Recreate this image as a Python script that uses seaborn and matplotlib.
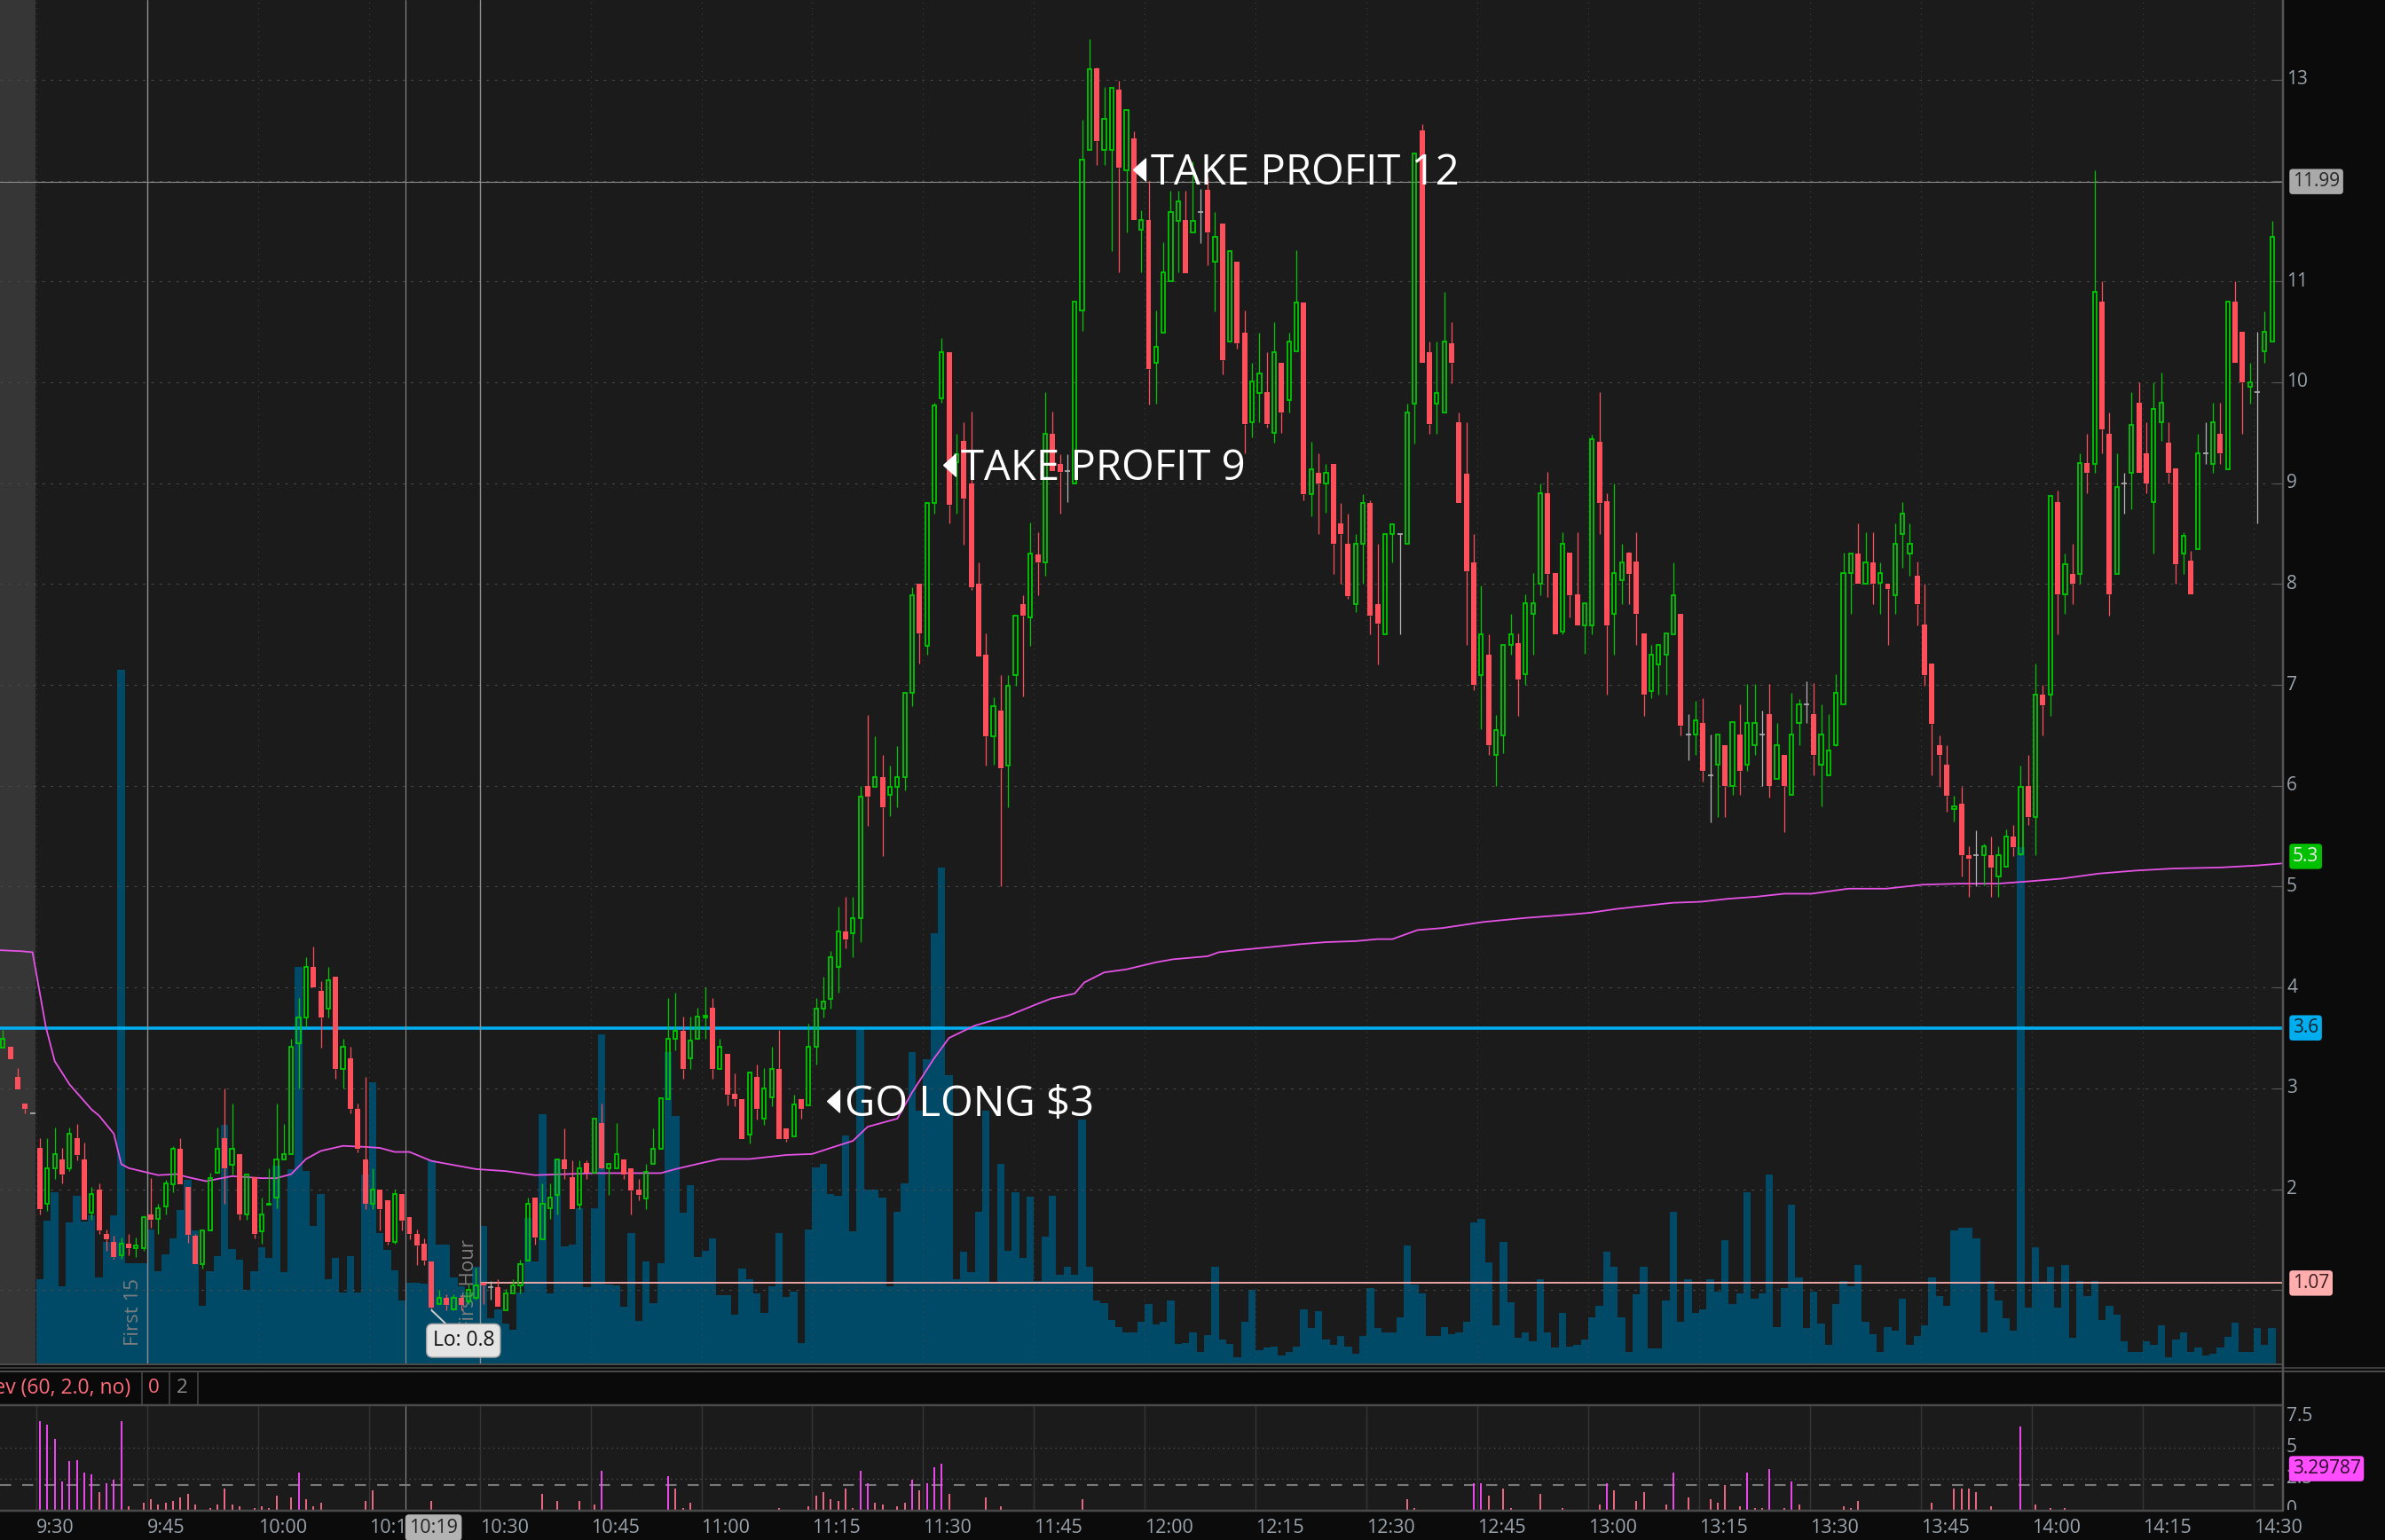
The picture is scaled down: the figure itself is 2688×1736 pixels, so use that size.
"""
Intraday 1-minute chart (candles, volume overlay, VWAP, key levels)
with a relative-volume sub-panel, rebuilt from a platform screenshot.
"""
import matplotlib
matplotlib.use("Agg")
import matplotlib.pyplot as plt
from matplotlib.lines import Line2D
import numpy as np
import pandas as pd
import seaborn as sns

# ---------------------------------------------------------------- data
# candle index = minutes after 9:30 (negative = pre-market)
MINUTES = list(range(-5, 303))

OPEN = [
    3.40, 3.41, 3.11, 2.85, 2.75, 2.41, 1.86, 2.21, 2.30, 2.21,
    2.51, 2.30, 1.77, 2.00, 1.56, 1.48, 1.35, 1.46, 1.42, 1.42,
    1.75, 1.71, 1.83, 2.05, 2.40, 2.02, 1.54, 1.26, 1.59, 2.16,
    2.51, 2.24, 2.35, 1.75, 2.12, 1.58, 1.85, 1.92, 2.30, 2.35,
    3.45, 3.70, 4.20, 3.97, 3.79, 4.11, 3.19, 3.30, 2.80, 2.30,
    1.86, 2.00, 1.89, 1.48, 1.95, 1.72, 1.56, 1.46, 1.28, 0.86,
    0.92, 0.81, 0.92, 0.89, 0.92, 1.07, 1.03, 1.03, 0.80, 0.97,
    1.05, 1.29, 1.92, 1.50, 1.81, 1.94, 2.30, 2.12, 1.85, 2.26,
    2.16, 2.66, 2.21, 2.21, 2.30, 2.21, 2.00, 1.91, 2.25, 2.40,
    2.89, 3.49, 3.57, 3.30, 3.49, 3.70, 3.80, 3.19, 3.34, 2.95,
    2.89, 2.54, 3.11, 2.70, 2.91, 3.19, 2.60, 2.52, 2.89, 2.83,
    3.41, 3.79, 3.89, 4.20, 4.56, 4.54, 4.69, 6.00, 5.99, 6.09,
    5.91, 5.99, 6.09, 6.92, 8.00, 7.39, 8.80, 9.84, 10.30, 9.21,
    9.42, 9.00, 8.00, 7.30, 6.49, 6.75, 6.20, 7.10, 7.80, 7.67,
    8.29, 8.21, 9.49, 9.19, 9.12, 9.00, 10.71, 12.30, 13.11, 12.30,
    12.30, 12.90, 12.10, 12.42, 11.51, 11.61, 10.19, 10.49, 11.00, 11.60,
    11.61, 11.49, 11.69, 11.91, 11.20, 11.57, 10.40, 11.20, 10.49, 9.60,
    9.89, 9.90, 9.50, 10.19, 9.82, 10.31, 10.79, 8.89, 9.10, 9.00,
    9.19, 8.60, 8.40, 7.80, 8.40, 8.80, 7.80, 7.50, 8.50, 8.50,
    8.40, 9.79, 12.50, 10.30, 9.79, 9.70, 10.39, 9.60, 9.09, 8.21,
    7.10, 7.30, 6.31, 6.50, 7.40, 7.41, 7.11, 7.70, 8.00, 8.90,
    8.11, 7.53, 8.31, 7.90, 7.59, 7.59, 9.41, 8.82, 7.70, 8.04,
    8.31, 8.22, 7.51, 6.94, 7.20, 7.30, 7.50, 7.70, 6.51, 6.51,
    6.62, 6.10, 6.21, 6.40, 6.00, 6.51, 6.21, 6.40, 6.51, 6.71,
    6.07, 6.31, 5.91, 6.62, 6.81, 6.71, 6.21, 6.10, 6.40, 6.81,
    8.11, 8.30, 8.00, 8.21, 8.01, 8.00, 7.89, 8.50, 8.30, 8.08,
    7.60, 7.21, 6.40, 6.21, 5.77, 5.82, 5.31, 5.31, 5.31, 5.31,
    5.10, 5.20, 5.50, 5.32, 6.00, 5.69, 6.90, 6.90, 8.81, 7.90,
    8.10, 8.10, 9.20, 9.19, 10.80, 9.49, 8.10, 9.00, 9.10, 9.80,
    9.30, 8.81, 9.60, 9.40, 9.15, 8.30, 8.23, 8.35, 9.30, 9.19,
    9.49, 9.14, 10.80, 10.50, 9.96, 9.90, 10.31, 10.40,
]
HIGH = [
    3.58, 3.41, 3.20, 2.85, 2.75, 2.51, 2.51, 2.61, 2.41, 2.61,
    2.65, 2.46, 2.02, 2.06, 1.60, 1.54, 1.52, 1.56, 1.52, 1.74,
    2.11, 1.86, 2.09, 2.43, 2.51, 2.02, 1.56, 1.59, 2.16, 2.61,
    3.00, 2.85, 2.35, 2.15, 2.12, 1.92, 2.21, 2.85, 2.65, 3.49,
    3.90, 4.30, 4.41, 4.06, 4.20, 4.11, 3.49, 3.41, 2.85, 3.11,
    2.21, 2.00, 1.89, 2.00, 1.95, 1.72, 1.60, 1.51, 1.28, 1.00,
    0.96, 0.96, 0.95, 1.06, 1.22, 1.07, 1.09, 1.11, 1.01, 1.11,
    1.30, 1.92, 1.92, 2.06, 2.06, 2.30, 2.60, 2.29, 2.29, 2.29,
    2.70, 2.85, 2.25, 2.66, 2.30, 2.21, 2.10, 2.25, 2.60, 2.90,
    3.90, 3.95, 3.71, 3.71, 3.80, 4.00, 3.90, 3.49, 3.34, 3.15,
    2.89, 3.16, 3.24, 3.20, 3.41, 3.58, 2.60, 2.94, 2.89, 3.64,
    3.90, 4.11, 4.36, 4.80, 4.90, 4.90, 6.00, 6.70, 6.49, 6.31,
    6.20, 6.39, 6.93, 7.97, 8.00, 8.80, 9.80, 10.44, 10.30, 9.49,
    9.60, 9.71, 8.21, 7.51, 6.88, 7.10, 7.10, 7.69, 7.89, 8.61,
    8.51, 9.90, 9.71, 9.29, 9.29, 10.80, 12.60, 13.40, 13.12, 12.93,
    12.93, 12.99, 12.70, 12.49, 11.71, 12.00, 10.71, 11.39, 11.90, 11.90,
    11.90, 12.19, 11.92, 12.03, 11.69, 11.57, 11.30, 11.20, 10.71, 10.19,
    10.49, 10.30, 10.60, 10.19, 10.49, 11.31, 10.79, 9.41, 9.30, 9.19,
    9.19, 8.80, 8.70, 8.50, 8.89, 8.83, 8.40, 8.50, 8.59, 8.50,
    9.79, 12.27, 12.56, 10.40, 10.40, 10.90, 10.60, 9.70, 9.60, 8.50,
    7.99, 7.50, 6.70, 7.40, 7.70, 7.51, 7.90, 8.11, 9.00, 9.11,
    8.11, 8.51, 8.31, 8.51, 7.81, 9.48, 9.90, 8.90, 9.00, 8.40,
    8.32, 8.51, 7.51, 7.40, 7.40, 7.51, 8.21, 7.70, 6.71, 6.84,
    6.87, 6.51, 6.51, 6.40, 6.63, 6.81, 7.01, 7.01, 6.75, 7.01,
    6.62, 6.31, 6.92, 6.86, 7.04, 7.02, 6.81, 6.71, 7.11, 8.31,
    8.30, 8.60, 8.51, 8.51, 8.21, 8.00, 8.60, 8.81, 8.60, 8.22,
    8.00, 7.21, 6.50, 6.40, 5.90, 5.99, 5.40, 5.56, 5.43, 5.50,
    5.40, 5.57, 5.61, 6.20, 6.31, 7.21, 7.00, 8.87, 8.93, 8.30,
    8.40, 9.30, 9.49, 12.10, 11.00, 9.70, 9.30, 9.10, 9.90, 10.00,
    9.60, 10.00, 10.10, 9.60, 9.15, 8.51, 8.33, 9.49, 9.60, 9.80,
    9.80, 10.80, 11.00, 10.50, 10.19, 10.50, 10.70, 11.60,
]
LOW = [
    3.40, 3.29, 2.99, 2.75, 2.75, 1.75, 1.79, 2.10, 2.06, 2.18,
    2.29, 1.70, 1.70, 1.56, 1.39, 1.31, 1.31, 1.35, 1.33, 1.39,
    1.62, 1.56, 1.75, 1.97, 2.05, 1.47, 1.26, 1.21, 1.59, 2.16,
    1.86, 2.15, 1.70, 1.70, 1.51, 1.46, 1.85, 1.81, 2.30, 2.35,
    3.00, 3.61, 4.00, 3.40, 3.70, 3.10, 3.00, 2.75, 2.37, 1.80,
    1.80, 1.59, 1.45, 1.46, 1.59, 1.50, 1.25, 1.25, 0.80, 0.86,
    0.80, 0.80, 0.80, 0.86, 0.91, 0.86, 0.91, 0.84, 0.80, 0.97,
    0.97, 1.29, 1.45, 1.50, 1.71, 1.75, 2.10, 1.80, 1.80, 2.10,
    2.16, 2.20, 1.94, 2.21, 2.10, 1.75, 1.89, 1.80, 2.25, 2.40,
    2.89, 3.38, 3.10, 3.19, 3.49, 3.49, 3.10, 3.19, 2.83, 2.82,
    2.50, 2.45, 2.69, 2.64, 2.82, 2.50, 2.47, 2.52, 2.70, 2.83,
    3.24, 3.70, 3.79, 3.95, 4.39, 4.30, 4.45, 5.60, 5.99, 5.30,
    5.70, 5.79, 5.95, 6.79, 7.21, 7.30, 8.70, 9.80, 8.60, 8.70,
    8.39, 7.94, 7.28, 6.20, 6.21, 5.00, 5.79, 6.99, 6.89, 7.39,
    7.89, 8.08, 9.12, 8.70, 8.81, 9.00, 10.51, 12.30, 12.15, 12.15,
    11.30, 11.09, 11.49, 11.61, 11.09, 9.78, 9.79, 10.49, 11.00, 11.09,
    11.08, 11.49, 11.38, 11.16, 10.70, 10.08, 10.40, 10.33, 9.30, 9.45,
    9.60, 9.55, 9.40, 9.50, 9.70, 10.31, 8.83, 8.67, 8.50, 8.71,
    8.10, 8.00, 7.85, 7.72, 8.00, 7.50, 7.20, 7.50, 8.21, 7.50,
    8.40, 9.39, 10.19, 9.49, 9.49, 9.70, 9.99, 8.80, 7.40, 6.95,
    6.56, 6.31, 6.00, 6.32, 7.30, 6.69, 7.00, 7.30, 7.89, 7.87,
    7.50, 7.50, 7.67, 7.59, 7.31, 7.50, 8.50, 6.90, 7.30, 7.80,
    7.80, 7.40, 6.69, 6.87, 6.90, 6.90, 7.50, 6.50, 6.25, 6.31,
    6.04, 5.64, 5.69, 5.69, 5.91, 5.91, 6.15, 6.31, 6.00, 5.88,
    6.07, 5.54, 5.91, 6.40, 6.62, 6.10, 5.80, 6.10, 6.39, 6.81,
    7.70, 8.00, 8.00, 7.80, 7.70, 7.40, 7.70, 8.16, 8.08, 7.59,
    6.99, 6.10, 5.99, 5.74, 5.65, 5.10, 4.90, 5.00, 5.01, 4.90,
    4.90, 5.20, 5.30, 5.31, 5.61, 5.31, 6.50, 6.69, 7.50, 7.70,
    7.80, 8.00, 8.90, 9.10, 9.30, 7.69, 8.10, 8.70, 8.74, 9.10,
    8.90, 8.30, 9.42, 9.00, 8.00, 8.10, 7.90, 8.35, 9.19, 9.10,
    9.19, 9.14, 10.19, 9.49, 9.79, 8.60, 10.19, 10.40,
]
CLOSE = [
    3.49, 3.29, 2.99, 2.80, 2.75, 1.80, 2.21, 2.35, 2.15, 2.55,
    2.34, 1.70, 1.95, 1.59, 1.50, 1.33, 1.46, 1.42, 1.44, 1.72,
    1.70, 1.81, 2.06, 2.40, 2.05, 1.55, 1.26, 1.59, 2.11, 2.40,
    2.21, 2.40, 1.75, 2.15, 1.56, 1.75, 1.86, 2.30, 2.35, 3.41,
    3.70, 4.20, 4.00, 3.70, 4.07, 3.19, 3.41, 2.80, 2.40, 1.86,
    2.00, 1.80, 1.48, 1.95, 1.69, 1.56, 1.44, 1.29, 0.83, 0.92,
    0.85, 0.92, 0.85, 1.00, 1.05, 1.05, 1.03, 0.84, 0.97, 1.05,
    1.26, 1.86, 1.52, 1.86, 1.92, 2.30, 2.20, 1.80, 2.21, 2.16,
    2.70, 2.21, 2.25, 2.35, 2.15, 1.99, 1.94, 2.17, 2.40, 2.90,
    3.49, 3.57, 3.19, 3.47, 3.71, 3.72, 3.19, 3.41, 2.94, 2.89,
    2.50, 3.16, 2.80, 3.00, 3.19, 2.50, 2.50, 2.84, 2.80, 3.41,
    3.79, 3.86, 4.30, 4.56, 4.48, 4.69, 5.89, 5.89, 6.09, 5.79,
    5.99, 6.09, 6.92, 7.89, 7.51, 8.80, 9.77, 10.30, 8.79, 9.29,
    8.85, 7.97, 7.28, 6.49, 6.79, 6.17, 6.99, 7.69, 7.69, 8.30,
    8.21, 9.49, 9.12, 9.11, 9.12, 10.80, 12.21, 13.10, 12.39, 12.61,
    12.92, 12.13, 12.70, 11.61, 11.61, 10.13, 10.35, 11.09, 11.69, 11.79,
    11.08, 11.60, 11.69, 11.49, 11.44, 10.22, 11.30, 10.39, 9.59, 10.01,
    10.09, 9.59, 10.30, 9.70, 10.40, 10.79, 8.89, 9.14, 9.00, 9.10,
    8.40, 8.50, 7.88, 8.40, 8.80, 7.69, 7.61, 8.50, 8.59, 8.50,
    9.70, 12.27, 10.19, 9.59, 9.89, 10.40, 10.19, 8.80, 8.13, 7.00,
    7.50, 6.40, 6.55, 7.40, 7.50, 7.05, 7.81, 7.81, 8.90, 8.10,
    7.50, 8.40, 7.89, 7.59, 7.81, 9.44, 8.80, 7.59, 8.11, 8.21,
    8.10, 7.70, 6.90, 7.30, 7.40, 7.51, 7.89, 6.60, 6.51, 6.65,
    6.15, 6.10, 6.51, 6.00, 6.63, 6.15, 6.62, 6.62, 6.51, 6.00,
    6.40, 6.00, 6.51, 6.81, 6.81, 6.31, 6.51, 6.35, 6.92, 8.11,
    8.30, 8.00, 8.21, 8.00, 8.11, 7.95, 8.40, 8.70, 8.40, 7.80,
    7.10, 6.61, 6.31, 5.90, 5.80, 5.31, 5.28, 5.31, 5.40, 5.19,
    5.31, 5.50, 5.39, 5.99, 5.69, 6.90, 6.80, 8.87, 7.90, 8.20,
    8.00, 9.20, 9.10, 10.90, 9.53, 7.90, 8.96, 9.00, 9.58, 9.10,
    9.00, 9.74, 9.80, 9.10, 8.20, 8.48, 7.90, 9.30, 9.30, 9.60,
    9.30, 10.80, 10.19, 10.00, 10.00, 9.90, 10.50, 11.44,
]
# volume per minute (thousand shares)
VOLUME = [
    0, 0, 0, 0, 0, 95, 161, 193, 87, 159,
    189, 160, 167, 97, 137, 167, 782, 113, 113, 113,
    151, 104, 123, 141, 173, 207, 150, 65, 104, 121,
    269, 129, 117, 83, 104, 131, 119, 223, 103, 219,
    447, 217, 155, 191, 95, 119, 80, 121, 80, 213,
    317, 147, 128, 105, 71, 91, 91, 90, 229, 134,
    134, 97, 87, 80, 109, 155, 51, 61, 45, 38,
    80, 164, 115, 281, 79, 230, 132, 134, 175, 86,
    175, 371, 89, 88, 64, 147, 48, 115, 68, 113,
    351, 279, 170, 201, 120, 127, 141, 77, 77, 55,
    107, 95, 79, 57, 87, 147, 75, 81, 23, 151,
    221, 225, 191, 189, 257, 149, 377, 196, 196, 187,
    87, 171, 203, 351, 285, 343, 485, 559, 325, 95,
    126, 103, 171, 285, 92, 225, 127, 193, 119, 188,
    93, 143, 189, 100, 109, 100, 275, 109, 71, 68,
    49, 41, 35, 35, 47, 67, 44, 47, 71, 22,
    23, 35, 13, 32, 109, 27, 22, 7, 47, 83,
    15, 18, 19, 9, 13, 19, 61, 40, 59, 27,
    21, 31, 19, 11, 31, 85, 40, 35, 35, 52,
    133, 89, 79, 31, 31, 41, 33, 35, 47, 159,
    163, 114, 43, 137, 69, 29, 35, 25, 95, 35,
    18, 57, 19, 21, 27, 52, 65, 126, 109, 52,
    13, 78, 109, 17, 17, 71, 171, 47, 95, 57,
    61, 95, 81, 139, 67, 79, 193, 73, 79, 213,
    41, 85, 179, 97, 40, 81, 45, 21, 67, 93,
    87, 111, 47, 33, 13, 41, 37, 73, 21, 31,
    43, 97, 76, 65, 150, 153, 153, 141, 35, 93,
    71, 51, 37, 582, 63, 131, 92, 109, 63, 111,
    29, 93, 76, 93, 49, 65, 55, 25, 13, 13,
    25, 21, 43, 7, 27, 35, 13, 18, 9, 11,
    18, 30, 46, 13, 13, 40, 21, 40,
]

# VWAP read at a set of minutes
VWAP_MIN = [
    -5.4, -2.5, -1.0, 0.8, 2, 4, 7, 8, 10, 11, 12, 16, 18.5, 20, 22.5, 26,
    30, 32, 34, 36, 38, 41, 44, 46, 48, 50, 53, 56, 59, 63, 67, 75, 84, 86,
    89.5, 92, 96, 101, 104.5, 107, 110, 112, 116, 118, 121, 123, 126.4, 131,
    134.7, 136.8, 140, 141.3, 144, 147, 151, 153.3, 158, 159.5, 162, 166.4,
    170.5, 174, 178, 181, 183, 186.4, 189.8, 195.3, 201, 206.4, 209.6,
    213.4, 217.1, 220.9, 224.7, 228.4, 232.2, 236, 239.7, 244.7, 249.8,
    254.8, 259.8, 264.9, 268.6, 273.6, 278.6, 283.7, 288.7, 295, 300, 303.3,
]
VWAP_PRICE = [
    4.37, 4.36, 4.35, 3.61, 3.27, 3.04, 2.79, 2.73, 2.55, 2.25, 2.21, 2.14,
    2.15, 2.12, 2.08, 2.13, 2.11, 2.11, 2.15, 2.30, 2.38, 2.43, 2.42, 2.41,
    2.37, 2.37, 2.28, 2.24, 2.20, 2.18, 2.14, 2.16, 2.16, 2.20, 2.26, 2.30,
    2.30, 2.34, 2.35, 2.41, 2.48, 2.62, 2.70, 2.96, 3.30, 3.50, 3.62, 3.72,
    3.83, 3.89, 3.94, 4.05, 4.15, 4.18, 4.25, 4.28, 4.31, 4.35, 4.37, 4.40,
    4.43, 4.45, 4.46, 4.48, 4.48, 4.57, 4.59, 4.65, 4.69, 4.72, 4.74, 4.78,
    4.81, 4.84, 4.85, 4.88, 4.90, 4.93, 4.93, 4.98, 4.98, 5.02, 5.03, 5.03,
    5.05, 5.08, 5.13, 5.16, 5.18, 5.19, 5.21, 5.23,
]

# relative volume st-dev (only the minutes with a visible bar)
RV_MIN = [
    0, 1, 2, 3, 4, 5, 6, 7, 8, 9, 10, 11, 12, 14, 15, 16, 17, 18, 19, 20, 21,
    23, 24, 25, 26, 27, 29, 30, 31, 32, 34, 35, 36, 37, 38, 44, 45, 53, 68,
    70, 73, 75, 76, 85, 86, 87, 88, 100, 104, 105, 106, 107, 108, 109, 110,
    111, 112, 113, 114, 116, 117, 118, 119, 120, 121, 122, 123, 128, 130,
    141, 185, 186, 194, 195, 196, 198, 199, 203, 206, 211, 212, 213, 216,
    217, 220, 221, 223, 226, 227, 228, 230, 231, 232, 233, 234, 236, 237,
    238, 244, 245, 246, 256, 259, 260, 261, 262, 264, 268, 270, 272, 274,
]
RV_VAL = [
    7.14, 6.84, 5.72, 2.26, 3.88, 3.98, 2.98, 2.81, 1.43, 2.14, 2.43, 7.14,
    0.29, 0.55, 0.84, 0.43, 0.55, 0.72, 1.0, 1.26, 0.43, 0.12, 0.43, 1.71,
    0.43, 0.29, 0.12, 0.29, 0.12, 1.14, 1.0, 2.98, 0.84, 0.29, 0.55, 0.72,
    1.55, 0.72, 1.26, 0.72, 0.72, 0.43, 3.14, 2.69, 1.71, 0.12, 0.55, 0.12,
    0.29, 1.14, 1.40, 0.84, 0.72, 1.71, 0.12, 3.14, 2.14, 0.55, 0.43, 0.29,
    0.55, 2.43, 1.55, 2.14, 3.40, 3.69, 1.26, 1.0, 0.29, 0.84, 0.84, 0.12,
    2.14, 2.14, 1.14, 1.71, 0.12, 1.26, 0.12, 0.43, 2.14, 1.55, 0.72, 1.40,
    0.43, 2.98, 1.0, 0.84, 0.55, 1.98, 0.29, 2.98, 0.12, 0.12, 3.29, 0.12,
    2.26, 0.43, 0.29, 0.12, 0.72, 0.55, 1.71, 1.71, 1.71, 1.40, 0.29, 6.70,
    0.43, 0.12, 0.12,
]

TIME_LABELS = ["9:30", "9:45", "10:00", "10:15", "10:30", "10:45", "11:00",
               "11:15", "11:30", "11:45", "12:00", "12:15", "12:30", "12:45",
               "13:00", "13:15", "13:30", "13:45", "14:00", "14:15", "14:30"]
PRICE_TICKS = [13, 12, 11, 10, 9, 8, 7, 6, 5, 4, 3, 2, 1]
# the 12 label sits under the crosshair box in the source
PRICE_LABELS = [13, 11, 10, 9, 8, 7, 6, 5, 4, 3, 2, 1]

NOTES = ["TAKE PROFIT 12", "TAKE PROFIT 9", "GO LONG $3"]
NOTE_MIN = [148.7, 123.0, 107.3]
NOTE_PRICE = [12.11, 9.18, 2.88]

# ---------------------------------------------------------------- style
FIG_BG = "#0b0b0b"
PLOT_BG = "#1b1b1b"
PREMKT = "#363636"
GRID = "#4a4a4a"
GREEN = "#00c800"
RED = "#ff4f5b"
DOJI = "#b4b4b4"
VOL = "#004a68"
VWAP_C = "#e652e6"
CYAN = "#00aef0"
PINK_LVL = "#ffb0b0"
CROSS = "#8c8c8c"
AXIS_TXT = "#9aa3ab"
RV_HI = "#ff4dff"
RV_LO = "#ff6f8a"

sns.set_theme(style="dark", context="notebook")
plt.rcParams["font.family"] = ["Open Sans", "DejaVu Sans"]

W, H = 2688, 1736
PLOT_R = 2572            # right edge of chart area (px)
PX0, PXS = 45.0, 8.33    # px of minute 0, px per minute
X_LO = -PX0 / PXS
X_HI = (PLOT_R - PX0) / PXS
P_LO, P_HI = 0.273, 13.79

fig = plt.figure(figsize=(W / 100, H / 100), dpi=100)
fig.patch.set_facecolor(FIG_BG)


def px_axes(x0, y0, x1, y1):
    a = fig.add_axes([x0 / W, 1 - y1 / H, (x1 - x0) / W, (y1 - y0) / H])
    a.set_xticks([])
    a.set_yticks([])
    for s in a.spines.values():
        s.set_visible(False)
    return a


def px_line(xs, ys, color, lw_px):
    fig.add_artist(Line2D([x / W for x in xs], [1 - y / H for y in ys],
                          color=color, lw=lw_px * 0.72,
                          transform=fig.transFigure))


df = pd.DataFrame({"minute": MINUTES, "open": OPEN, "high": HIGH,
                   "low": LOW, "close": CLOSE, "volume": VOLUME})
df["top"] = df[["open", "close"]].max(axis=1)
df["bot"] = df[["open", "close"]].min(axis=1)
df["color"] = np.where(df["close"] > df["open"], GREEN,
                       np.where(df["close"] < df["open"], RED, DOJI))
up = df[df["close"] > df["open"]]
dn = df[df["close"] < df["open"]]
flat = df[df["close"] == df["open"]]

# ---------------------------------------------------------------- volume layer
ax_vol = px_axes(0, 0, PLOT_R, 1537)
ax_vol.set_facecolor(PLOT_BG)
ax_vol.set_xlim(X_LO, X_HI)
ax_vol.set_ylim(0, 1537)
ax_vol.axvspan(X_LO, -0.55, color=PREMKT, lw=0)
ax_vol.bar(df["minute"], df["volume"], width=1.0, color=VOL, linewidth=0)

# ---------------------------------------------------------------- price layer
ax = px_axes(0, 0, PLOT_R, 1537)
ax.patch.set_visible(False)
ax.set_xlim(X_LO, X_HI)
ax.set_ylim(P_LO, P_HI)

tick_pos = [15 * i - 0.5 for i in range(len(TIME_LABELS))]
for p in PRICE_TICKS:
    ax.axhline(p, color=GRID, lw=0.8, ls=(0, (2.5, 6)), zorder=0.5)
for t in tick_pos:
    ax.axvline(t, color=GRID, lw=0.8, ls=(0, (0.8, 5)), zorder=0.5)
ax.hlines(PRICE_TICKS, 302.2, X_HI, color="#5a5a5a", lw=0.8, zorder=0.6)

ax.axhline(3.6, color=CYAN, lw=2.6, zorder=2)
ax.axhline(11.99, color=CROSS, lw=0.8, zorder=2)
ax.hlines(1.07, 59.6, X_HI, color=PINK_LVL, lw=1.3, zorder=2)
for t in (14.5, 59.5):
    ax.axvline(t, color="#909090", lw=1.0, zorder=2)
ax.axvline(49.45, color=CROSS, lw=0.8, zorder=2)

ax.text(12.7, 0.449, "First 15", rotation=90, ha="center", va="bottom",
        color="#7d7d7d", fontsize=16, zorder=2.1)
ax.text(58.0, 0.60, "First Hour", rotation=90, ha="center", va="bottom",
        color="#7d7d7d", fontsize=16, zorder=2.1)

sns.lineplot(x=VWAP_MIN, y=VWAP_PRICE, ax=ax, color=VWAP_C, linewidth=1.3,
             zorder=2.5)
ax.set_xlabel("")
ax.set_ylabel("")

# candles
ax.vlines(df["minute"], df["top"], df["high"], colors=df["color"], lw=0.9,
          zorder=3)
ax.vlines(df["minute"], df["low"], df["bot"], colors=df["color"], lw=0.9,
          zorder=3)
ax.bar(dn["minute"], dn["open"] - dn["close"], bottom=dn["close"], width=0.72,
       color=RED, linewidth=0, zorder=3.1)
ax.bar(up["minute"], up["close"] - up["open"], bottom=up["open"], width=0.5,
       fill=False, edgecolor=GREEN, linewidth=1.3, zorder=3.1)
ax.hlines(flat["open"], flat["minute"] - 0.36, flat["minute"] + 0.36,
          color=DOJI, lw=1.2, zorder=3.1)
ax.set_xlim(X_LO, X_HI)
ax.set_ylim(P_LO, P_HI)

# trade notes
tri = [(-0.5, 0.0), (0.5, 0.9), (0.5, -0.9), (-0.5, 0.0)]
for txt, m, p in zip(NOTES, NOTE_MIN, NOTE_PRICE):
    ax.plot([m], [p], marker=tri, markersize=18, color="white",
            linestyle="none", zorder=11)
    ax.text(m + 1.55, p - 0.15, txt, ha="left", va="baseline",
            color="white", fontsize=34, zorder=11)

ax.annotate("Lo: 0.8", xy=(53, 0.80), xytext=(57.3, 0.50), textcoords="data",
            ha="center", va="center", fontsize=16.5, color="#111111",
            bbox=dict(boxstyle="round,pad=0.3", fc="#e4e4e4", ec="#a0a0a0",
                      lw=1),
            arrowprops=dict(arrowstyle="-", color="#cfcfcf", lw=1.4,
                            shrinkA=0, shrinkB=0),
            zorder=12)

# right price scale
ytr = ax.get_yaxis_transform()
lx = 2577 / PLOT_R
for p in PRICE_LABELS:
    ax.text(lx, p, str(p), transform=ytr, ha="left", va="center",
            color=AXIS_TXT, fontsize=15, clip_on=False)
box_labels = [(11.99, "11.99", "#a9a9a9", "#262626"),
              (5.3, "5.3", "#00c000", "#f2f2f2"),
              (3.6, "3.6", "#00aef0", "#10202a"),
              (1.07, "1.07", "#ffadad", "#3a1f1f")]
for p, s, fc, tc in box_labels:
    ax.text(2584 / PLOT_R, p, s, transform=ytr, ha="left", va="center",
            color=tc, fontsize=15, clip_on=False, zorder=20,
            bbox=dict(boxstyle="round,pad=0.18", fc=fc, ec="none"))

# ---------------------------------------------------------------- study header
ax_hdr = px_axes(0, 1547, PLOT_R, 1583)
ax_hdr.set_facecolor("#0a0a0a")
ax_hdr.set_xlim(0, PLOT_R)
ax_hdr.set_ylim(0, 1)
ax_hdr.text(147, 0.5, "RelativeVolumeStDev (60, 2.0, no)", ha="right",
            va="center", color="#ff6b7b", fontsize=16.5, clip_on=True)
for x in (160, 191, 223):
    ax_hdr.axvline(x, color="#3c3c3c", lw=1.4)
ax_hdr.text(167, 0.5, "0", ha="left", va="center", color="#ff6b7b",
            fontsize=16)
ax_hdr.text(199, 0.5, "2", ha="left", va="center", color="#8c8c8c",
            fontsize=16)

# ---------------------------------------------------------------- lower panel
ax_low = px_axes(0, 1585, PLOT_R, 1702)
ax_low.set_facecolor(PLOT_BG)
ax_low.set_xlim(X_LO, X_HI)
ax_low.set_ylim(-0.02, 8.34)
for t in tick_pos:
    ax_low.axvline(t, color="#353535", lw=1.0, zorder=0.5)
ax_low.axvline(49.45, color=CROSS, lw=0.8, zorder=0.6)
for v in (2.5, 5.0):
    ax_low.axhline(v, color="#4c4c4c", lw=1.0, ls=(0, (1, 3)), zorder=0.7)
ax_low.axhline(2.0, color="#7a7a7a", lw=1.5, ls=(0, (6, 6)), zorder=0.8)
rv_colors = [RV_HI if v >= 2.0 else RV_LO for v in RV_VAL]
ax_low.vlines(RV_MIN, 0, RV_VAL, colors=rv_colors, lw=1.3, zorder=2)

xtr = ax_low.get_xaxis_transform()
lab_y = (1702 - 1722) / 117
for t, lab in zip(tick_pos, TIME_LABELS):
    ax_low.text(t, lab_y, lab, transform=xtr, ha="left", va="center",
                color=AXIS_TXT, fontsize=15.5, clip_on=False)
ax_low.text(49.95, lab_y, "10:19", transform=xtr, ha="left", va="center",
            color="#222222", fontsize=15.5, clip_on=False, zorder=5,
            bbox=dict(boxstyle="round,pad=0.2", fc="#b3b3b3", ec="none"))

ax_lr = px_axes(PLOT_R, 1585, W, 1702)
ax_lr.set_facecolor(FIG_BG)
ax_lr.set_xlim(0, 1)
ax_lr.set_ylim(-0.02, 8.34)
for v, s in [(7.5, "7.5"), (5.0, "5"), (2.5, "2.5"), (0.0, "0")]:
    ax_lr.text(0.04, v, s, ha="left", va="center", color=AXIS_TXT,
               fontsize=15, clip_on=True)
ax_lr.text(0.10, 3.29787, "3.29787", ha="left", va="center",
           color="#2a0a2a", fontsize=15, clip_on=False, zorder=5,
           bbox=dict(boxstyle="round,pad=0.18", fc="#ff4dff", ec="none"))

# ---------------------------------------------------------------- borders
px_line([0, PLOT_R], [1537.5, 1537.5], "#4a4a4a", 2)
px_line([0, W], [1541.5, 1541.5], "#3a3a3a", 2)
px_line([0, W], [1546, 1546], "#4a4a4a", 2)
px_line([0, PLOT_R], [1584, 1584], "#4a4a4a", 2.5)
px_line([0, PLOT_R], [1703, 1703], "#4a4a4a", 2.5)
px_line([PLOT_R + 1, PLOT_R + 1], [0, 1703], "#555555", 2.5)

fig.savefig("out.png", dpi=100, facecolor=fig.get_facecolor())
